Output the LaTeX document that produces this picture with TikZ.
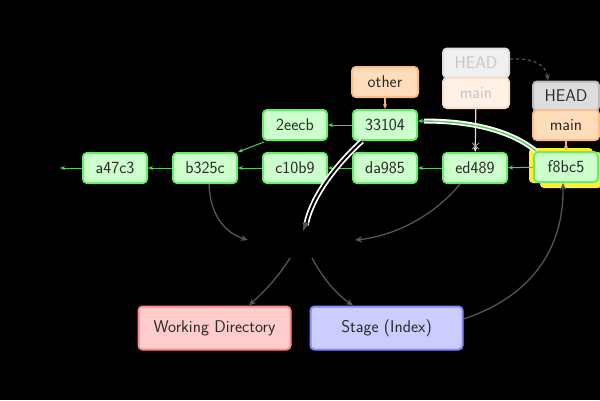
\documentclass[tikz,border=0pt]{standalone}
\usetikzlibrary{arrows.meta}
\definecolor{cfill}{HTML}{CCFFCC}
\definecolor{cdraw}{HTML}{66EE66}
\definecolor{carrow}{HTML}{55CC55}
\definecolor{ofill}{HTML}{FFDDBB}
\definecolor{odraw}{HTML}{FFBB88}
\definecolor{hfill}{HTML}{DDDDDD}
\definecolor{hdraw}{HTML}{BBBBBB}
\definecolor{wfill}{HTML}{FFCCCC}
\definecolor{wdraw}{HTML}{FF8888}
\definecolor{sfill}{HTML}{CCCCFF}
\definecolor{sdraw}{HTML}{8888FF}
\definecolor{txt}{HTML}{2A2A2A}
\definecolor{garrow}{HTML}{555555}
\definecolor{hlyellow}{HTML}{FFEE33}
\begin{document}
\begin{tikzpicture}[x=1pt,y=-1pt,
  every node/.style={font=\sffamily\fontsize{17}{19}\selectfont, text=txt},
  box/.style={rounded corners=4pt, line width=2pt, minimum height=30pt, inner sep=0pt},
  commit/.style={box, fill=cfill, draw=cdraw, minimum width=64pt},
  ref/.style={box, fill=ofill, draw=odraw, minimum width=66pt},
  headbox/.style={box, fill=hfill, draw=hdraw, minimum width=66pt, minimum height=29pt},
  area/.style={box, minimum width=152pt, minimum height=43pt},
  par/.style={carrow, line width=1pt, -{Stealth[length=5pt,width=4pt]}},
  gar/.style={garrow, line width=1.3pt, -{Stealth[length=7pt,width=6pt]}},
  oar/.style={odraw!80!brown, line width=1.2pt, -{Stealth[length=5pt,width=4pt]}}]
\fill[black] (0,0) rectangle (600,400);
\useasboundingbox (0,0) rectangle (600,400);

% yellow highlight behind f8bc5
\fill[hlyellow, rounded corners=4pt] (529,148) rectangle (593,183);
\fill[hlyellow, rounded corners=4pt] (540,152) rectangle (602,188);

% commits
\node[commit] (a47c3) at (115,168) {a47c3};
\node[commit] (b325c) at (205,168) {b325c};
\node[commit] (c10b9) at (295,168) {c10b9};
\node[commit] (da985) at (385,168) {da985};
\node[commit] (ed489) at (475,168) {ed489};
\node[commit] (f8bc5) at (566,167) {f8bc5};
\node[commit] (2eecb) at (295,125) {2eecb};
\node[commit] (33104) at (385,125) {33104};
\node[ref] (other) at (385,82) {other};

% old HEAD/main (faded)
\node[box, fill=gray!12, draw=gray!25, minimum width=66pt, minimum height=29pt, text=gray!45] (oldhead) at (476,63) {HEAD};
\node[box, fill=ofill!40, draw=odraw!45, minimum width=66pt, text=gray!45] (oldmain) at (476,93) {main};

% new HEAD/main
\node[headbox] (head) at (566,96) {HEAD};
\node[ref] (main) at (566,125) {main};

% parent links
\coordinate (root) at (60,168);
\draw[par] (a47c3) -- (root);
\draw[par] (b325c) -- (a47c3);
\draw[par] (c10b9) -- (b325c);
\draw[par] (da985) -- (c10b9);
\draw[par] (ed489) -- (da985);
\draw[par] (f8bc5) -- (ed489);
\draw[par] (33104) -- (2eecb);
\draw[par] (2eecb.south west) ++(2,1) -- (b325c.north east);

% highlighted link f8bc5 -> 33104
\draw[white, line width=5pt] (f8bc5.north west) ++(3,0) .. controls (510,130) and (470,121) .. (424,121);
\draw[carrow, line width=1.4pt, -{Stealth[length=5pt,width=4.5pt]}] (f8bc5.north west) ++(3,0) .. controls (510,130) and (470,121) .. (33104.east |- 0,121);

% refs
\draw[oar] (other) -- (33104);
\draw[oar] (main) -- (f8bc5);
\draw[odraw!60, line width=1.2pt, -{Stealth[length=5pt,width=4pt]}] (oldmain) -- (ed489);
\draw[gray!70, line width=0.8pt] (472,143) -- (479,149) (479,143) -- (472,149);
\draw[garrow, line width=1.2pt, dashed, -{Stealth[length=6pt,width=5pt]}] (oldhead.east |- 0,59) .. controls (535,58) and (546,65) .. (head.north west -| 548,0);

% center point
\coordinate (mid) at (301,249);
\coordinate (inL) at (248,240);
\coordinate (inR) at (355,240);
\coordinate (outL) at (290,258);
\coordinate (outR) at (312,258);

% white double line from 33104
\draw[white, line width=5.5pt] (33104.south west) ++(10,0) .. controls (338,163) and (312,195) .. (306,225);
\draw[black, line width=2pt] (33104.south west) ++(10,0) .. controls (338,163) and (312,195) .. (306,225);
\fill[garrow] (303,231) -- (303.5,222) -- (309,223.5) -- cycle;

% areas
\node[area, fill=wfill, draw=wdraw] (wd) at (214.5,328) {Working Directory};
\node[area, fill=sfill, draw=sdraw] (stage) at (386.5,328) {Stage (Index)};

% gray arrows
\draw[gar] (b325c.south) ++(4,0) .. controls (210,215) and (225,233) .. (inL);
\draw[gar] (ed489.south west) ++(18,0) .. controls (435,215) and (395,236) .. (inR);
\draw[gar] (outL) .. controls (275,282) and (260,295) .. (wd.north -| 249,0);
\draw[gar] (outR) .. controls (325,282) and (338,295) .. (stage.north -| 353,0);
\draw[gar] (stage.east |- 0,319) .. controls (530,297) and (564,250) .. (f8bc5.south -| 563,0);
\end{tikzpicture}
\end{document}
